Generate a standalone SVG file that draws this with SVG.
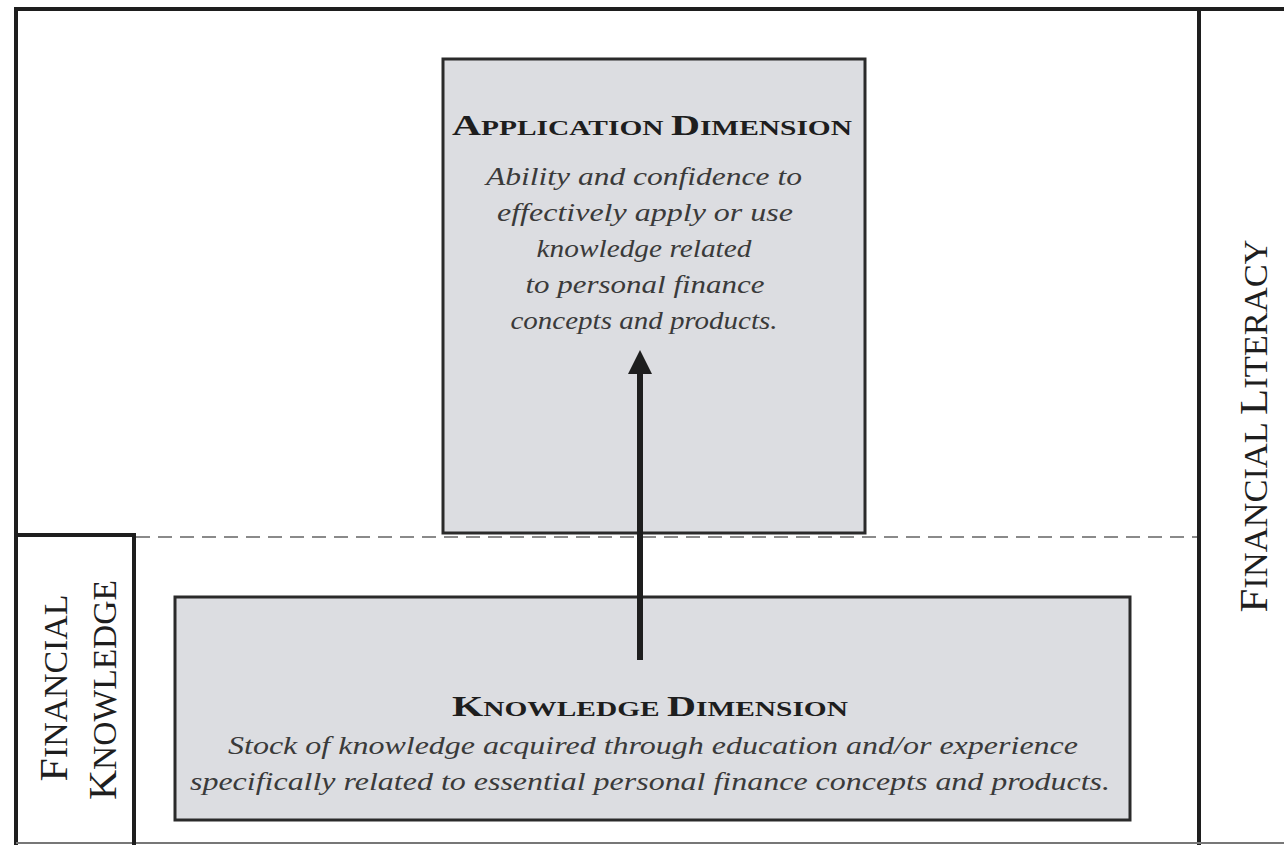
<svg xmlns="http://www.w3.org/2000/svg" width="1284" height="845" viewBox="0 0 1284 845">
<style>
.frame{fill:none;stroke:#1e1e1e;stroke-width:4}
.box{fill:#dcdde1;stroke:#2a2a2a;stroke-width:3}
.title{font-family:"Liberation Serif",serif;font-weight:bold;fill:#1e1e1e;text-anchor:middle}
.body{font-family:"Liberation Serif",serif;font-style:italic;fill:#3a3a3a;text-anchor:middle;font-size:26px}
.side{font-family:"Liberation Serif",serif;fill:#1e1e1e;text-anchor:middle}
.big{font-size:30px}
.sm{font-size:22px}
.sbig{font-size:41px}
.ssm{font-size:33px}
</style>
<rect width="1284" height="845" fill="#ffffff"/>
<g id="outer">
<path class="frame" d="M1284,9 H16 V845"/>
<line x1="1199" y1="9" x2="1199" y2="845" stroke="#1e1e1e" stroke-width="4"/>
<line x1="16" y1="843" x2="1284" y2="843" stroke="#777" stroke-width="2"/>
</g>
<g id="financial-knowledge">
<path d="M16,535 H134 V845" fill="none" stroke="#1e1e1e" stroke-width="4"/>
<text class="side" transform="translate(67,688) rotate(-90)" textLength="187" lengthAdjust="spacingAndGlyphs"><tspan class="sbig">F</tspan><tspan class="ssm">INANCIAL</tspan></text>
<text class="side" transform="translate(116,690) rotate(-90)" textLength="220" lengthAdjust="spacingAndGlyphs"><tspan class="sbig">K</tspan><tspan class="ssm">NOWLEDGE</tspan></text>
</g>
<g id="financial-literacy">
<text class="side" transform="translate(1267,426) rotate(-90)" textLength="373" lengthAdjust="spacingAndGlyphs"><tspan class="sbig">F</tspan><tspan class="ssm">INANCIAL </tspan><tspan class="sbig">L</tspan><tspan class="ssm">ITERACY</tspan></text>
</g>
<line x1="136" y1="537" x2="1197" y2="537" stroke="#8a8a8a" stroke-width="2" stroke-dasharray="14,8"/>
<g id="application">
<rect class="box" x="443" y="59" width="422" height="474"/>
<text class="title" x="652" y="135" textLength="400" lengthAdjust="spacingAndGlyphs"><tspan class="big">A</tspan><tspan class="sm">PPLICATION </tspan><tspan class="big">D</tspan><tspan class="sm">IMENSION</tspan></text>
<text class="body" x="644" y="185" textLength="316" lengthAdjust="spacingAndGlyphs">Ability and confidence to</text>
<text class="body" x="645" y="221" textLength="296" lengthAdjust="spacingAndGlyphs">effectively apply or use</text>
<text class="body" x="644" y="257" textLength="215" lengthAdjust="spacingAndGlyphs">knowledge related</text>
<text class="body" x="645" y="293" textLength="239" lengthAdjust="spacingAndGlyphs">to personal finance</text>
<text class="body" x="644" y="329" textLength="267" lengthAdjust="spacingAndGlyphs">concepts and products.</text>
</g>
<g id="knowledge">
<rect class="box" x="175" y="597" width="955" height="223"/>
<text class="title" x="650" y="716" textLength="396" lengthAdjust="spacingAndGlyphs"><tspan class="big">K</tspan><tspan class="sm">NOWLEDGE </tspan><tspan class="big">D</tspan><tspan class="sm">IMENSION</tspan></text>
<text class="body" x="653" y="754" textLength="850" lengthAdjust="spacingAndGlyphs">Stock of knowledge acquired through education and/or experience</text>
<text class="body" x="650" y="790" textLength="920" lengthAdjust="spacingAndGlyphs">specifically related to essential personal finance concepts and products.</text>
</g>
<g id="connectors">
<line x1="640" y1="660" x2="640" y2="372" stroke="#1e1e1e" stroke-width="6"/>
<path d="M628,374 L640,350 L652,374 z" fill="#1e1e1e"/>
</g>
</svg>
